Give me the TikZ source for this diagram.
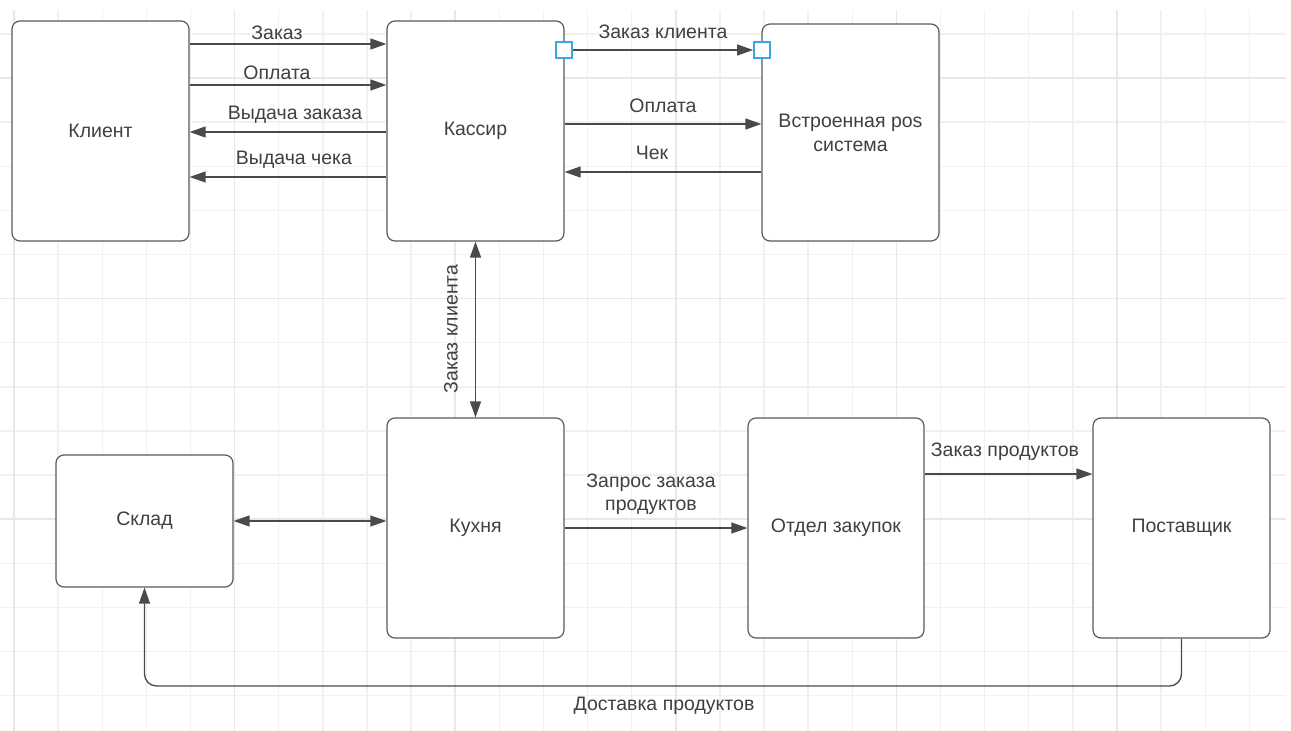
\documentclass[tikz,border=0pt]{standalone}
\usepackage{fontspec}
\setmainfont{Liberation Sans}
\usetikzlibrary{arrows.meta}
\definecolor{gridminor}{HTML}{F1F1F1}
\definecolor{gridmajor}{HTML}{E8E8E8}
\definecolor{boxc}{HTML}{5A5A5A}
\definecolor{linec}{HTML}{4A4A4A}
\definecolor{txtc}{HTML}{404040}
\definecolor{handlec}{HTML}{3AA6E6}
\tikzset{
  box/.style={draw=boxc, line width=1.2pt, fill=white, rounded corners=8pt,
    minimum width=177pt, minimum height=220pt, inner sep=2pt, align=center,
    text=txtc, font=\fontsize{19.5}{24}\selectfont},
  lbl/.style={text=txtc, inner sep=0pt, align=center, font=\fontsize{19.5}{23}\selectfont},
  arr/.style={draw=linec, line width=1.3pt, -{Triangle[length=16pt,width=11pt]}},
  darr/.style={draw=linec, line width=1.3pt, {Triangle[length=16pt,width=11pt]}-{Triangle[length=16pt,width=11pt]}},
  handle/.style={draw=handlec, line width=1.8pt, fill=white, minimum size=16pt, inner sep=0pt}
}
\begin{document}
\begin{tikzpicture}[x=1pt,y=-1pt]
\useasboundingbox (0,0) rectangle (1291,731);
\fill[white] (0,0) rectangle (1291,731);
% grid
\foreach \k in {0,...,28} {
  \pgfmathsetmacro{\gx}{14+44.12*\k}
  \draw[gridminor, line width=1.4pt] (\gx,10) -- (\gx,731);
}
\foreach \k in {0,...,15} {
  \pgfmathsetmacro{\gy}{33.9+44.12*\k}
  \draw[gridminor, line width=1.4pt] (0,\gy) -- (1286,\gy);
}
\foreach \k in {0,5,...,25} {
  \pgfmathsetmacro{\gx}{14+44.12*\k}
  \draw[gridmajor, line width=1.5pt] (\gx,10) -- (\gx,731);
}
\foreach \k in {1,6,11} {
  \pgfmathsetmacro{\gy}{33.9+44.12*\k}
  \draw[gridmajor, line width=1.5pt] (0,\gy) -- (1286,\gy);
}
% boxes
\node[box] (client) at (100.5,131) {Клиент};
\node[box] (cashier) at (475.5,131) {Кассир};
\node[box, minimum height=217pt] (pos) at (850.5,132.5) {Встроенная pos\\система};
\node[box, minimum height=132pt] (sklad) at (144.5,521) {Склад};
\node[box] (kitchen) at (475.5,528) {Кухня};
\node[box, minimum width=176pt] (otdel) at (836,528) {Отдел закупок};
\node[box] (post) at (1181.5,528) {Поставщик};
% handles
\node[handle] (h1) at (564,50) {};
\node[handle] (h2) at (762,50) {};
% connectors client <-> cashier
\draw[arr] (client.east |- 0,44) -- (cashier.west |- 0,44);
\draw[arr] (client.east |- 0,85) -- (cashier.west |- 0,85);
\draw[arr] (cashier.west |- 0,132) -- (client.east |- 0,132);
\draw[arr] (cashier.west |- 0,177) -- (client.east |- 0,177);
\node[lbl] (l1) at (277,33) {Заказ};
\node[lbl] (l2) at (277,73) {Оплата};
\node[lbl] (l3) at (295,115) {Выдача заказа};
\node[lbl] (l4) at (294,160) {Выдача чека};
% cashier <-> pos
\draw[arr] (h1) -- (h2);
\draw[arr] (cashier.east |- 0,124) -- (pos.west |- 0,124);
\draw[arr] (pos.west |- 0,172) -- (cashier.east |- 0,172);
\node[lbl] (l5) at (663,32) {Заказ клиента};
\node[lbl] (l6) at (663,106) {Оплата};
\node[lbl] (l7) at (652,153) {Чек};
% cashier <-> kitchen
\draw[darr] (cashier.south) -- (kitchen.north);
\node[lbl, rotate=90] (l8) at (451,329) {Заказ клиента};
% sklad <-> kitchen
\draw[darr] (sklad.east) -- (kitchen.west |- sklad.east);
% kitchen -> otdel
\draw[arr] (kitchen.east) -- (otdel.west);
\node[lbl] (l9) at (651,494) {Запрос заказа\\продуктов};
% otdel -> post
\draw[arr] (otdel.east |- 0,474) -- (post.west |- 0,474);
\node[lbl] (l10) at (1005,452) {Заказ продуктов};
% delivery
\draw[arr, rounded corners=12pt] (post.south) -- (post.south |- 0,686) -| (sklad.south);
\node[lbl] (l11) at (664,706) {Доставка продуктов};
\end{tikzpicture}
\end{document}
